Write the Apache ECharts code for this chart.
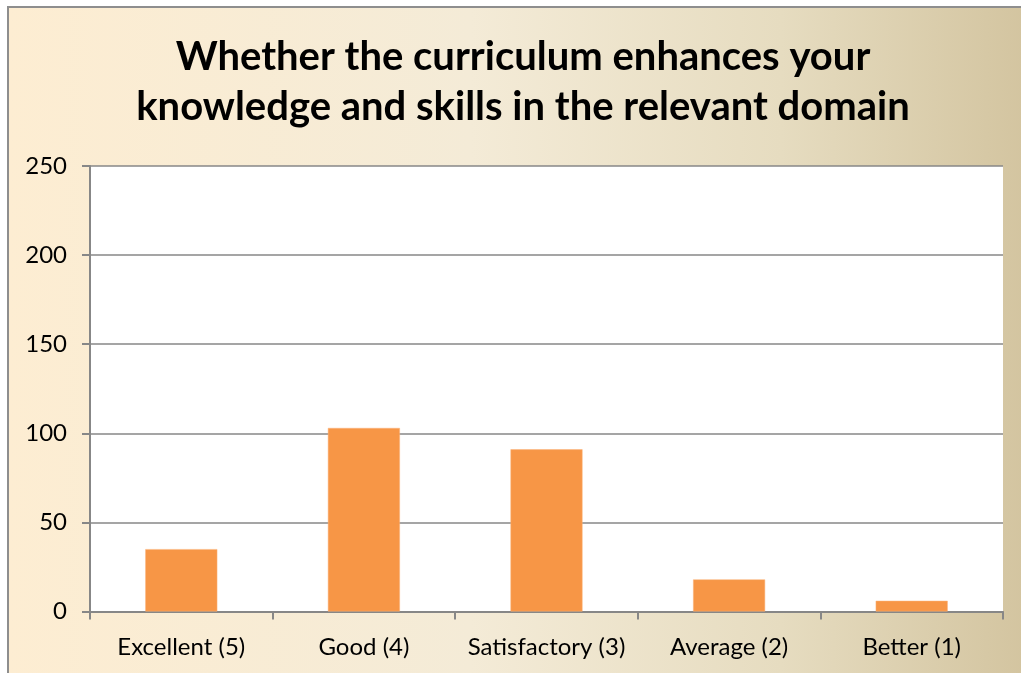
<!DOCTYPE html>
<html>
<head>
<meta charset="utf-8">
<script src="https://cdn.jsdelivr.net/npm/echarts@6/dist/echarts.min.js"></script>
<style>
  html, body { margin: 0; padding: 0; background: #ffffff; }
  #chart { width: 1021px; height: 673px; }
</style>
</head>
<body>
<div id="chart"></div>
<script>
// Survey responses: does the curriculum enhance knowledge and skills
const categories = ['Excellent (5)', 'Good (4)', 'Satisfactory (3)', 'Average (2)', 'Better (1)'];
const responses = [35, 103, 91, 18, 6];
const yTicks = { min: 0, max: 250, interval: 50 };
const titleLines = ['Whether the curriculum enhances your', 'knowledge and skills in the relevant domain'];

const chart = echarts.init(document.getElementById('chart'), null, { renderer: 'canvas' });

const font = 'Lato, "Open Sans", "Liberation Sans", sans-serif';

chart.setOption({
  animation: false,
  graphic: [
    {
      type: 'rect',
      z: -10,
      silent: true,
      shape: { x: 8, y: 7, width: 1030, height: 690 },
      style: {
        fill: new echarts.graphic.LinearGradient(0, 0, 1, 0, [
          { offset: 0, color: '#FDEDD2' },
          { offset: 0.45, color: '#F4EBD7' },
          { offset: 0.75, color: '#E6DCC0' },
          { offset: 1, color: '#D2C39E' }
        ]),
        stroke: '#8E8E8E',
        lineWidth: 2
      }
    },
    {
      type: 'text',
      z: 10,
      x: 523,
      y: 82,
      style: {
        text: titleLines.join('\n'),
        font: 'bold 40px ' + font,
        fill: '#000000',
        align: 'center',
        verticalAlign: 'middle',
        lineHeight: 50
      }
    }
  ],
  grid: {
    left: 90,
    right: 18,
    top: 166,
    bottom: 61.5,
    show: true,
    backgroundColor: '#ffffff',
    borderWidth: 0
  },
  xAxis: {
    type: 'category',
    data: categories,
    axisLine: { lineStyle: { color: '#878787', width: 2 } },
    axisTick: { show: true, length: 8, lineStyle: { color: '#878787', width: 2 } },
    axisLabel: { color: '#000000', fontSize: 24, fontFamily: font, margin: 24, interval: 0 }
  },
  yAxis: {
    type: 'value',
    min: yTicks.min,
    max: yTicks.max,
    interval: yTicks.interval,
    axisLine: { show: true, lineStyle: { color: '#878787', width: 2 } },
    axisTick: { show: true, length: 8, lineStyle: { color: '#878787', width: 2 } },
    axisLabel: { color: '#000000', fontSize: 24, fontFamily: font, margin: 23 },
    splitLine: { show: true, lineStyle: { color: '#878787', width: 1.5 } }
  },
  series: [
    {
      type: 'bar',
      data: responses,
      barWidth: 72,
      itemStyle: { color: '#F79646', borderColor: '#FAB27A', borderWidth: 0.5 }
    }
  ]
});
</script>
</body>
</html>
